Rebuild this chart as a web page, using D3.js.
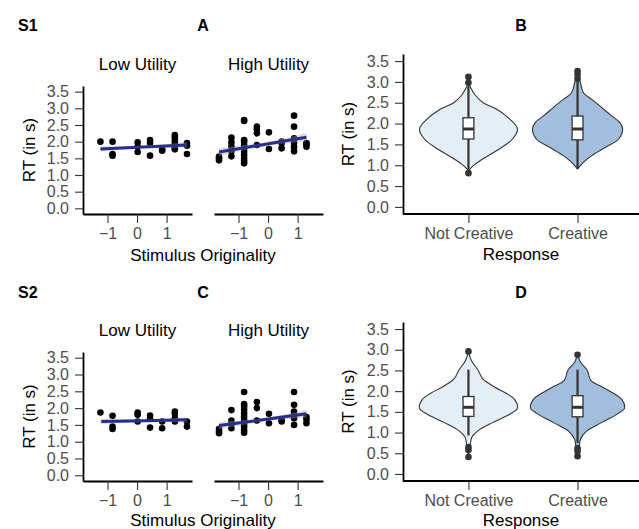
<!DOCTYPE html>
<html lang='en'>
<head>
  <meta charset='UTF-8'>
  <title>RT by stimulus originality and response</title>
  <style>
  body {
    margin: 0;
    background: #fff;
  }
  text {
    font-family: 'Liberation Sans', Arial, sans-serif;
  }
  .tick text {
    fill: #4d4d4d;
    font-size: 16px;
  }
  .tick line {
    stroke: #333;
    stroke-width: 1.1;
  }
  .domain {
    stroke: #000;
    stroke-width: 1.8;
  }
  .title {
    font-size: 17px;
    fill: #000;
  }
  .tag {
    font-size: 16px;
    font-weight: bold;
  }
  </style>
  <script src='https://d3js.org/d3.v7.min.js'></script>
</head>
<body>
  <script>

  // ---- data ----

  var rtTicks = [0, 0.5, 1, 1.5, 2, 2.5, 3, 3.5];
  var origTicks = [-1, 0, 1];
  var utilities = ['Low Utility', 'High Utility'];
  var responses = ['Not Creative', 'Creative'];

  // stimulus originality levels present in each facet
  var lowOrig = [-1.24, -0.83, 0.02, 0.44, 0.85, 1.28, 1.69];
  var highOrig = [-1.66, -1.24, -0.81, -0.38, 0.03, 0.46, 0.88, 1.30];

  // mean RT per stimulus, grouped by originality level (study 1)
  var s1LowRT = [
    [2.0],
    [2.0, 1.63, 1.58],
    [1.98, 1.85, 1.69],
    [2.05, 1.96, 1.58],
    [1.73, 1.76],
    [2.2, 2.13, 2.05, 1.97, 1.9, 1.8, 1.77],
    [1.96, 1.88, 1.63]
  ];
  var s1HighRT = [
    [1.55, 1.5, 1.44],
    [2.12, 1.98, 1.85, 1.71, 1.56],
    [2.65, 2.62, 2.05, 2.0, 1.9, 1.8, 1.7, 1.6, 1.5, 1.42, 1.35],
    [2.45, 2.37, 2.25, 1.9],
    [2.28, 1.78],
    [2.0, 1.95, 1.8],
    [2.78, 2.45, 2.1, 1.96, 1.84, 1.71],
    [1.96, 1.92, 1.85]
  ];

  // study 2
  var s2LowRT = [
    [1.87],
    [1.77, 1.45, 1.38],
    [1.87, 1.8, 1.6],
    [1.78, 1.68, 1.42],
    [1.6, 1.4],
    [1.9, 1.83, 1.7, 1.6],
    [1.6, 1.45]
  ];
  var s2HighRT = [
    [1.38, 1.3, 1.25],
    [1.94, 1.63, 1.53, 1.4],
    [2.48, 2.12, 2.05, 1.95, 1.85, 1.75, 1.65, 1.55, 1.45, 1.35, 1.27],
    [2.18, 2.0, 1.63],
    [1.83, 1.55],
    [1.65, 1.6],
    [2.48, 2.1, 1.9, 1.8, 1.7, 1.5],
    [1.73, 1.65, 1.55]
  ];

  // linear fits: [originality, fit, lower, upper]
  var s1LowFit = [[-1.24, 1.78, 1.70, 1.86], [0.22, 1.84, 1.80, 1.88], [1.69, 1.90, 1.82, 1.98]];
  var s1HighFit = [[-1.66, 1.69, 1.57, 1.81], [-0.18, 1.91, 1.85, 1.97], [1.30, 2.13, 2.01, 2.25]];
  var s2LowFit = [[-1.21, 1.60, 1.52, 1.68], [0.23, 1.62, 1.58, 1.66], [1.68, 1.65, 1.57, 1.73]];
  var s2HighFit = [[-1.66, 1.48, 1.37, 1.59], [-0.18, 1.65, 1.60, 1.70], [1.30, 1.83, 1.72, 1.94]];

  // violin outlines: [RT, relative half width]
  var s1ViolinNC = [[2.98, 0], [2.85, 0.05], [2.68, 0.14], [2.5, 0.3], [2.35, 0.57], [2.1, 0.85], [1.87, 1.0],
    [1.63, 0.9], [1.39, 0.63], [1.15, 0.29], [0.99, 0.1], [0.87, 0]];
  var s1ViolinC = [[3.22, 0], [2.98, 0.06], [2.74, 0.12], [2.58, 0.29], [2.39, 0.49], [2.19, 0.69], [2.03, 0.86],
    [1.87, 0.92], [1.63, 0.84], [1.43, 0.57], [1.23, 0.29], [1.07, 0.12], [0.91, 0]];
  var s2ViolinNC = [[2.96, 0], [2.74, 0.06], [2.5, 0.2], [2.3, 0.29], [2.1, 0.53], [1.95, 0.77], [1.8, 0.94],
    [1.59, 1.0], [1.44, 0.84], [1.24, 0.49], [1.04, 0.19], [0.89, 0.07], [0.73, 0.04], [0.41, 0]];
  var s2ViolinC = [[2.9, 0], [2.7, 0.06], [2.5, 0.2], [2.26, 0.27], [2.11, 0.49], [1.95, 0.73], [1.8, 0.9],
    [1.59, 0.96], [1.44, 0.8], [1.24, 0.49], [1.04, 0.19], [0.84, 0.06], [0.61, 0.03], [0.43, 0]];

  // boxplots: [lower whisker, q1, median, q3, upper whisker]
  var s1BoxNC = [0.9, 1.63, 1.87, 2.14, 2.9];
  var s1BoxC = [0.91, 1.61, 1.87, 2.18, 3.02];
  var s2BoxNC = [0.93, 1.39, 1.61, 1.87, 2.52];
  var s2BoxC = [0.75, 1.38, 1.61, 1.89, 2.52];

  var s1OutNC = [3.12, 2.98, 0.81];
  var s1OutC = [3.26, 3.18, 3.08];
  var s2OutNC = [2.96, 0.65, 0.58, 0.41];
  var s2OutC = [2.88, 0.62, 0.55, 0.43];

  var fillColors = ['#e3eef7', '#a3bedc'];
  var fitColor = '#262f8a';

  // ---- drawing ----

  var svg = d3.select('body').append('svg').attr('width', 639).attr('height', 529);

  var rtDomain = [-0.17, 3.67];

  function yAxis(g, y, xPos) {
    g.append('g')
      .attr('transform', 'translate(' + xPos + ',0)')
      .call(d3.axisLeft(y).tickValues(rtTicks).tickFormat(d3.format('.1f'))
        .tickSize(8).tickPadding(6).tickSizeOuter(0));
  }

  function yTitle(g, x, yMid) {
    g.append('text')
      .attr('class', 'title')
      .attr('text-anchor', 'middle')
      .attr('transform', 'translate(' + x + ',' + yMid + ') rotate(-90)')
      .text('RT (in s)');
  }

  function scatterRow(cfg) {
    var g = svg.append('g');
    var y = d3.scaleLinear().domain(rtDomain).range([cfg.bottom, cfg.top]);
    var facets = [
      { name: utilities[0], range: [83, 192], levels: lowOrig, rt: cfg.lowRT, fit: cfg.lowFit },
      { name: utilities[1], range: [214, 323], levels: highOrig, rt: cfg.highRT, fit: cfg.highFit }
    ];

    facets.forEach(function (f) {
      var x = d3.scaleLinear().domain([-1.83, 1.86]).range(f.range);
      var pts = [];
      f.levels.forEach(function (lv, i) {
        f.rt[i].forEach(function (v) { pts.push([lv, v]); });
      });

      // strip label
      g.append('text')
        .attr('class', 'title')
        .attr('text-anchor', 'middle')
        .attr('x', (f.range[0] + f.range[1]) / 2)
        .attr('y', cfg.stripY)
        .text(f.name);

      // x axis
      g.append('g')
        .attr('transform', 'translate(0,' + cfg.bottom + ')')
        .call(d3.axisBottom(x).tickValues(origTicks).tickFormat(d3.format('d'))
          .tickSize(9).tickPadding(5).tickSizeOuter(0));

      // points
      g.append('g').selectAll('circle')
        .data(pts)
        .enter()
        .append('circle')
        .attr('r', 3.3)
        .attr('cx', function (d) { return x(d[0]); })
        .attr('cy', function (d) { return y(d[1]); })
        .attr('fill', '#000');

      // confidence band and fit
      g.append('path')
        .datum(f.fit)
        .attr('d', d3.area().curve(d3.curveMonotoneX)
          .x(function (d) { return x(d[0]); })
          .y0(function (d) { return y(d[2]); })
          .y1(function (d) { return y(d[3]); }))
        .attr('fill', '#a6a6a6')
        .attr('fill-opacity', 0.4);

      g.append('path')
        .datum(f.fit)
        .attr('d', d3.line()
          .x(function (d) { return x(d[0]); })
          .y(function (d) { return y(d[1]); }))
        .attr('fill', 'none')
        .attr('stroke', fitColor)
        .attr('stroke-width', 3);
    });

    yAxis(g, y, 83);
    yTitle(g, 35, (cfg.top + cfg.bottom) / 2);

    g.append('text')
      .attr('class', 'title')
      .attr('text-anchor', 'middle')
      .attr('x', 203)
      .attr('y', cfg.xTitleY)
      .text('Stimulus Originality');

    g.append('text').attr('class', 'tag').attr('x', 18).attr('y', cfg.tagY).text(cfg.study);
    g.append('text').attr('class', 'tag').attr('text-anchor', 'middle')
      .attr('x', 203).attr('y', cfg.tagY).text(cfg.letter);
  }

  function violinPanel(cfg) {
    var g = svg.append('g');
    var y = d3.scaleLinear().domain(rtDomain).range([cfg.bottom, cfg.top]);
    var x = d3.scalePoint().domain(responses).range([403, 643]).padding(0.6);
    var w = d3.scaleLinear().domain([0, 1]).range([0, 49]);
    var boxW = x.step() * 0.1;

    // x axis
    var ax = g.append('g')
      .attr('transform', 'translate(0,' + cfg.bottom + ')')
      .call(d3.axisBottom(x).tickSize(9).tickPadding(5).tickSizeOuter(0));
    ax.select('.domain').attr('d', 'M403,0H639');

    responses.forEach(function (r, i) {
      var cx = x(r);

      g.append('path')
        .datum(cfg.violins[i])
        .attr('d', d3.area().curve(d3.curveCatmullRom)
          .y(function (d) { return y(d[0]); })
          .x0(function (d) { return cx - w(d[1]); })
          .x1(function (d) { return cx + w(d[1]); }))
        .attr('fill', fillColors[i])
        .attr('stroke', '#333')
        .attr('stroke-width', 1.1);

      var b = cfg.boxes[i];
      g.append('line')
        .attr('x1', cx).attr('x2', cx)
        .attr('y1', y(b[0])).attr('y2', y(b[4]))
        .attr('stroke', '#333').attr('stroke-width', 2.2);

      g.append('rect')
        .attr('x', cx - boxW / 2)
        .attr('width', boxW)
        .attr('y', y(b[3]))
        .attr('height', y(b[1]) - y(b[3]))
        .attr('fill', '#fff')
        .attr('stroke', '#333')
        .attr('stroke-width', 1.3);

      g.append('line')
        .attr('x1', cx - boxW / 2).attr('x2', cx + boxW / 2)
        .attr('y1', y(b[2])).attr('y2', y(b[2]))
        .attr('stroke', '#333').attr('stroke-width', 3);

      g.append('g').selectAll('circle')
        .data(cfg.outliers[i])
        .enter()
        .append('circle')
        .attr('r', 3.3)
        .attr('cx', cx)
        .attr('cy', function (d) { return y(d); })
        .attr('fill', '#333');
    });

    yAxis(g, y, 403);
    yTitle(g, 354, (cfg.top + cfg.bottom) / 2);

    g.append('text')
      .attr('class', 'title')
      .attr('text-anchor', 'middle')
      .attr('x', 521)
      .attr('y', cfg.xTitleY)
      .text('Response');

    g.append('text').attr('class', 'tag').attr('text-anchor', 'middle')
      .attr('x', 521).attr('y', cfg.tagY).text(cfg.letter);
  }

  scatterRow({
    top: 86, bottom: 214, stripY: 70, xTitleY: 261, tagY: 31,
    study: 'S1', letter: 'A',
    lowRT: s1LowRT, highRT: s1HighRT, lowFit: s1LowFit, highFit: s1HighFit
  });

  scatterRow({
    top: 352, bottom: 481, stripY: 336, xTitleY: 526, tagY: 298,
    study: 'S2', letter: 'C',
    lowRT: s2LowRT, highRT: s2HighRT, lowFit: s2LowFit, highFit: s2HighFit
  });

  violinPanel({
    top: 54, bottom: 214, xTitleY: 260, tagY: 31, letter: 'B',
    violins: [s1ViolinNC, s1ViolinC], boxes: [s1BoxNC, s1BoxC], outliers: [s1OutNC, s1OutC]
  });

  violinPanel({
    top: 322, bottom: 481, xTitleY: 526, tagY: 298, letter: 'D',
    violins: [s2ViolinNC, s2ViolinC], boxes: [s2BoxNC, s2BoxC], outliers: [s2OutNC, s2OutC]
  });
  </script>
</body>
</html>
